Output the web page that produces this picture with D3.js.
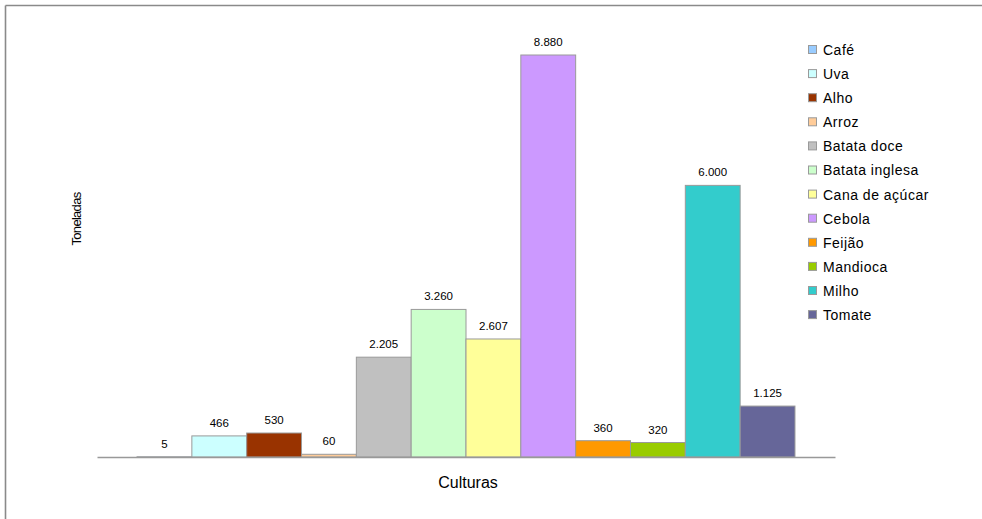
<!DOCTYPE html>
<html>
<head>
<meta charset="utf-8">
<script src="https://cdn.jsdelivr.net/npm/d3@7"></script>
<style>
  html, body { margin: 0; padding: 0; background: #fff; }
  svg { display: block; font-family: "Liberation Sans", Arial, sans-serif; }
</style>
</head>
<body>
<svg id="chart" width="982" height="519"></svg>
<script>
// Produção por cultura (toneladas)
const culturas = ["Café", "Uva", "Alho", "Arroz", "Batata doce", "Batata inglesa",
                  "Cana de açúcar", "Cebola", "Feijão", "Mandioca", "Milho", "Tomate"];
const toneladas = [5, 466, 530, 60, 2205, 3260, 2607, 8880, 360, 320, 6000, 1125];
const cores = ["#99CCFF", "#CCFFFF", "#993300", "#FFCC99", "#C0C0C0", "#CCFFCC",
               "#FFFF99", "#CC99FF", "#FF9900", "#99CC00", "#33CCCC", "#666699"];

const data = culturas.map((c, i) => ({ cultura: c, valor: toneladas[i], cor: cores[i] }));

const svg = d3.select("#chart");
const ptBR = d3.formatLocale({ decimal: ",", thousands: ".", grouping: [3], currency: ["R$", ""] });
const fmt = ptBR.format(",d");

const plot = { left: 97, right: 835, base: 457, top: 55 };

const x = d3.scaleBand()
  .domain(culturas)
  .range([plot.left, plot.right])
  .paddingInner(0)
  .paddingOuter(0.73);

const y = d3.scaleLinear()
  .domain([0, d3.max(toneladas)])
  .range([plot.base, plot.top]);

// moldura (topo e lado esquerdo)
svg.append("line").attr("x1", 5.5).attr("x2", 982).attr("y1", 5.5).attr("y2", 5.5)
  .attr("stroke", "#8a8a8a").attr("stroke-width", 1.6);
svg.append("line").attr("x1", 5.5).attr("x2", 5.5).attr("y1", 5.5).attr("y2", 519)
  .attr("stroke", "#8a8a8a").attr("stroke-width", 1.6);

// barras
svg.append("g").selectAll("rect")
  .data(data)
  .join("rect")
  .attr("x", d => x(d.cultura))
  .attr("y", d => y(d.valor))
  .attr("width", x.bandwidth())
  .attr("height", d => y(0) - y(d.valor))
  .attr("fill", d => d.cor)
  .attr("stroke", "#9a9a9a")
  .attr("stroke-width", 1);

// eixo X (linha de base)
const xAxis = svg.append("g")
  .attr("transform", `translate(0,${plot.base})`)
  .call(d3.axisBottom(x).tickSize(0).tickFormat(""));
xAxis.select(".domain").attr("stroke", "#999").attr("stroke-width", 1.5);

// rótulos de valor
svg.append("g").selectAll("text")
  .data(data)
  .join("text")
  .attr("x", d => x(d.cultura) + x.bandwidth() / 2)
  .attr("y", d => y(d.valor) - 9)
  .attr("text-anchor", "middle")
  .attr("font-size", 11.5)
  .attr("fill", "#000")
  .text(d => fmt(d.valor));

// títulos dos eixos
svg.append("text")
  .attr("x", 468).attr("y", 488)
  .attr("text-anchor", "middle")
  .attr("font-size", 16)
  .attr("fill", "#000")
  .text("Culturas");

svg.append("text")
  .attr("transform", "translate(81,219) rotate(-90)")
  .attr("text-anchor", "middle")
  .attr("font-size", 13)
  .attr("letter-spacing", -0.7)
  .attr("fill", "#000")
  .text("Toneladas");

// legenda
const legend = svg.append("g").selectAll("g")
  .data(data)
  .join("g")
  .attr("transform", (d, i) => `translate(808,${50 + i * 24.1})`);

legend.append("rect")
  .attr("x", 0.5).attr("y", -4.5)
  .attr("width", 8).attr("height", 8)
  .attr("fill", d => d.cor)
  .attr("stroke", "#9a9a9a")
  .attr("stroke-width", 1);

legend.append("text")
  .attr("x", 15).attr("y", 0)
  .attr("dy", "0.35em")
  .attr("font-size", 14)
  .attr("letter-spacing", 0.5)
  .attr("fill", "#000")
  .text(d => d.cultura);
</script>
</body>
</html>
